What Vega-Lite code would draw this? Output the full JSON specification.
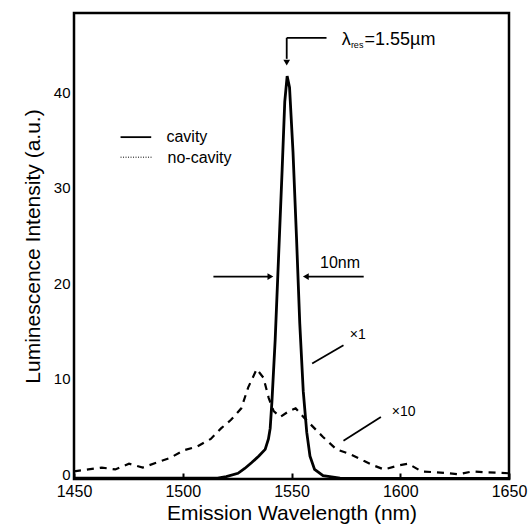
{
  "$schema": "https://vega.github.io/schema/vega-lite/v6.json",
  "width": 435,
  "height": 466,
  "autosize": "none",
  "padding": {"left": 74, "top": 13, "right": 22, "bottom": 50},
  "background": "white",
  "config": {
    "view": {"stroke": "black", "strokeWidth": 2.5},
    "font": "Liberation Sans",
    "axis": {"domain": false, "grid": false, "labelColor": "black", "titleColor": "black", "labelFont": "Liberation Sans", "titleFont": "Liberation Sans", "titleFontWeight": "normal"}
  },
  "datasets": {
    "cavity": [
      {"x": 1450, "y": 0.1}, {"x": 1480, "y": 0.1}, {"x": 1500, "y": 0.1}, {"x": 1516, "y": 0.1},
      {"x": 1520, "y": 0.25}, {"x": 1525.4, "y": 0.6}, {"x": 1528.5, "y": 1.1}, {"x": 1531.6, "y": 1.7},
      {"x": 1535, "y": 2.4}, {"x": 1537.9, "y": 3.1}, {"x": 1539.4, "y": 4.2}, {"x": 1540.2, "y": 5.3},
      {"x": 1541, "y": 8.1}, {"x": 1542.5, "y": 14.6}, {"x": 1544.1, "y": 23.5}, {"x": 1545.7, "y": 32.4},
      {"x": 1546.9, "y": 39.5}, {"x": 1548, "y": 42.2}, {"x": 1549.1, "y": 41.0}, {"x": 1550.7, "y": 34.2},
      {"x": 1552.3, "y": 25.3}, {"x": 1553.8, "y": 16.3}, {"x": 1555.4, "y": 9.2}, {"x": 1557, "y": 4.9},
      {"x": 1558.5, "y": 2.4}, {"x": 1560.6, "y": 1.0}, {"x": 1564.5, "y": 0.35}, {"x": 1572.3, "y": 0.1},
      {"x": 1600, "y": 0.05}, {"x": 1650, "y": 0.05}
    ],
    "nocavity": [
      {"x": 1450, "y": 0.8}, {"x": 1456.6, "y": 1.0}, {"x": 1462.8, "y": 1.2}, {"x": 1469, "y": 1.0},
      {"x": 1475.3, "y": 1.6}, {"x": 1481.6, "y": 1.2}, {"x": 1487.8, "y": 1.7}, {"x": 1494.1, "y": 2.2},
      {"x": 1500.4, "y": 3.0}, {"x": 1506.6, "y": 3.4}, {"x": 1512.9, "y": 4.2}, {"x": 1517.6, "y": 5.3},
      {"x": 1522.2, "y": 6.2}, {"x": 1526.9, "y": 7.4}, {"x": 1530.1, "y": 9.6}, {"x": 1534, "y": 11.5},
      {"x": 1537.1, "y": 10.6}, {"x": 1539.5, "y": 8.5}, {"x": 1541.8, "y": 7.1}, {"x": 1544.9, "y": 6.5},
      {"x": 1548.8, "y": 7.1}, {"x": 1551.9, "y": 7.4}, {"x": 1555.9, "y": 6.4}, {"x": 1560.6, "y": 5.3},
      {"x": 1564.5, "y": 4.4}, {"x": 1570.7, "y": 3.1}, {"x": 1577, "y": 2.6}, {"x": 1583.2, "y": 1.9},
      {"x": 1587.9, "y": 1.4}, {"x": 1592.6, "y": 1.0}, {"x": 1598.9, "y": 1.4}, {"x": 1603.6, "y": 1.6},
      {"x": 1609.8, "y": 0.8}, {"x": 1616.1, "y": 0.7}, {"x": 1622.3, "y": 0.6}, {"x": 1627, "y": 0.5},
      {"x": 1633.3, "y": 0.8}, {"x": 1639.5, "y": 0.7}, {"x": 1650, "y": 0.6}
    ],
    "segments": [
      {"x": 1547.8, "x2": 1566.1, "y": 46.2, "y2": 46.2},
      {"x": 1547.8, "x2": 1547.8, "y": 46.2, "y2": 44.0},
      {"x": 1514.1, "x2": 1540.0, "y": 21.2, "y2": 21.2},
      {"x": 1557.0, "x2": 1583.2, "y": 21.2, "y2": 21.2},
      {"x": 1559.5, "x2": 1573.9, "y": 12.1, "y2": 14.0},
      {"x": 1573.9, "x2": 1591.1, "y": 4.0, "y2": 6.5},
      {"x": 1471.4, "x2": 1485.5, "y": 35.8, "y2": 35.8}
    ],
    "dotted": [
      {"x": 1471.4, "x2": 1486.0, "y": 33.7, "y2": 33.7}
    ],
    "heads": [
      {"x": 1547.8, "y": 43.6, "shape": "triangle-down"},
      {"x": 1540.3, "y": 21.2, "shape": "triangle-right"},
      {"x": 1556.6, "y": 21.2, "shape": "triangle-left"}
    ],
    "labelsCenter": [
      {"x": 1572.3, "y": 22.6, "t": "10nm", "s": 16},
      {"x": 1580.5, "y": 15.1, "t": "×1", "s": 14},
      {"x": 1601.6, "y": 7.0, "t": "×10", "s": 14}
    ],
    "labelsLeft": [
      {"x": 1492.5, "y": 35.8, "t": "cavity", "s": 16},
      {"x": 1493.0, "y": 33.6, "t": "no-cavity", "s": 16},
      {"x": 1573.1, "y": 46.0, "t": "λ", "s": 18},
      {"x": 1577.3, "y": 45.4, "t": "res", "s": 9},
      {"x": 1583.6, "y": 46.0, "t": "=1.55µm", "s": 18}
    ]
  },
  "layer": [
    {
      "data": {"name": "nocavity"},
      "mark": {"type": "line", "color": "black", "strokeWidth": 2.2, "strokeDash": [7, 6], "clip": true},
      "encoding": {
        "x": {"field": "x", "type": "quantitative",
          "scale": {"domain": [1450, 1650], "nice": false, "zero": false},
          "axis": {"values": [1450, 1500, 1550, 1600, 1650], "format": "d", "labelFontSize": 16, "labelPadding": 10, "tickSize": -6, "tickColor": "black", "tickWidth": 2, "title": "Emission Wavelength (nm)", "titleFontSize": 21, "titlePadding": 3, "labelFlush": false}},
        "y": {"field": "y", "type": "quantitative",
          "scale": {"domain": [0, 48.8], "nice": false, "zero": true},
          "axis": {"values": [0, 10, 20, 30, 40], "labelFontSize": 15, "labelPadding": 4, "labelOffset": -5, "ticks": false, "title": "Luminescence Intensity (a.u.)", "titleFontSize": 21, "titlePadding": 10}}
      }
    },
    {
      "data": {"name": "cavity"},
      "mark": {"type": "line", "color": "black", "strokeWidth": 2.8, "clip": true},
      "encoding": {
        "x": {"field": "x", "type": "quantitative"},
        "y": {"field": "y", "type": "quantitative"}
      }
    },
    {
      "data": {"name": "segments"},
      "mark": {"type": "rule", "color": "black", "strokeWidth": 1.8},
      "encoding": {
        "x": {"field": "x", "type": "quantitative"},
        "x2": {"field": "x2"},
        "y": {"field": "y", "type": "quantitative"},
        "y2": {"field": "y2"}
      }
    },
    {
      "data": {"name": "dotted"},
      "mark": {"type": "rule", "color": "black", "strokeWidth": 1, "strokeDash": [1, 1.5]},
      "encoding": {
        "x": {"field": "x", "type": "quantitative"},
        "x2": {"field": "x2"},
        "y": {"field": "y", "type": "quantitative"},
        "y2": {"field": "y2"}
      }
    },
    {
      "data": {"name": "heads"},
      "mark": {"type": "point", "filled": true, "color": "black", "size": 45, "opacity": 1},
      "encoding": {
        "x": {"field": "x", "type": "quantitative"},
        "y": {"field": "y", "type": "quantitative"},
        "shape": {"field": "shape", "type": "nominal", "scale": null, "legend": null}
      }
    },
    {
      "data": {"name": "labelsCenter"},
      "mark": {"type": "text", "align": "center", "baseline": "middle", "color": "black", "font": "Liberation Sans"},
      "encoding": {
        "x": {"field": "x", "type": "quantitative"},
        "y": {"field": "y", "type": "quantitative"},
        "text": {"field": "t"},
        "size": {"field": "s", "type": "quantitative", "scale": null}
      }
    },
    {
      "data": {"name": "labelsLeft"},
      "mark": {"type": "text", "align": "left", "baseline": "middle", "color": "black", "font": "Liberation Sans"},
      "encoding": {
        "x": {"field": "x", "type": "quantitative"},
        "y": {"field": "y", "type": "quantitative"},
        "text": {"field": "t"},
        "size": {"field": "s", "type": "quantitative", "scale": null}
      }
    }
  ]
}
